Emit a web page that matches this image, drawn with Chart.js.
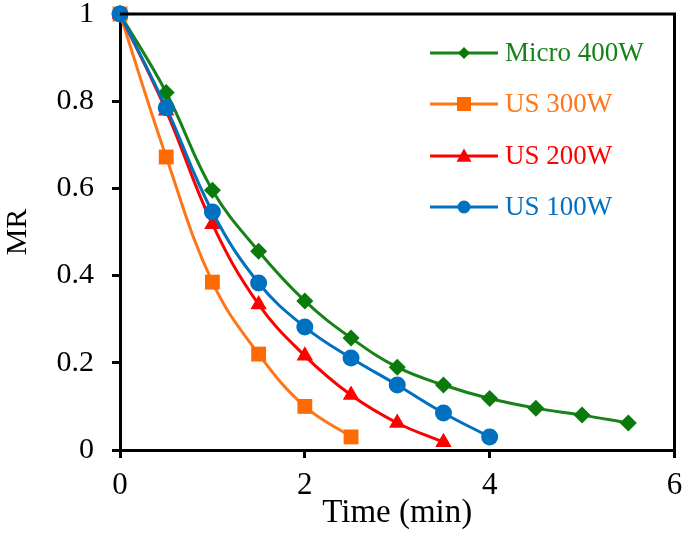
<!DOCTYPE html>
<html>
<head>
<meta charset="utf-8">
<script src="https://cdn.jsdelivr.net/npm/chart.js@4/dist/chart.umd.min.js"></script>
<style>
html,body{margin:0;padding:0;background:#fff;}
#wrap{width:685px;height:545px;}
</style>
</head>
<body>
<div id="wrap"><canvas id="c" width="685" height="545"></canvas></div>
<script>
const seriesNames = ["Micro 400W", "US 300W", "US 200W", "US 100W"];
const timeMicro400 = [0, 0.5, 1, 1.5, 2, 2.5, 3, 3.5, 4, 4.5, 5, 5.5];
const mrMicro400 = [1, 0.82, 0.596, 0.456, 0.342, 0.257, 0.19, 0.149, 0.118, 0.096, 0.080, 0.062];
const timeUS300 = [0, 0.5, 1, 1.5, 2, 2.5];
const mrUS300 = [1, 0.672, 0.385, 0.22, 0.10, 0.03];
const timeUS200 = [0, 0.5, 1, 1.5, 2, 2.5, 3, 3.5];
const mrUS200 = [1, 0.778, 0.518, 0.334, 0.216, 0.126, 0.062, 0.018];
const timeUS100 = [0, 0.5, 1, 1.5, 2, 2.5, 3, 3.5, 4];
const mrUS100 = [1, 0.785, 0.546, 0.383, 0.282, 0.211, 0.149, 0.085, 0.03];
const xTicks = [0, 2, 4, 6];
const yTicks = [0, 0.2, 0.4, 0.6, 0.8, 1];

const colors = ["#178217", "#FF7518", "#FF0000", "#0070C0"];
const markerColors = ["#0A7A0A", "#FF6A00", "#FF0000", "#0070C0"];
const styles = ["rectRot", "rect", "triangle", "circle"];
const radii = [8.5, 10.5, 9.5, 8.5];

function pts(xs, ys){ return xs.map((x,i)=>({x:x, y:ys[i]})); }
const dataSets = [pts(timeMicro400, mrMicro400), pts(timeUS300, mrUS300), pts(timeUS200, mrUS200), pts(timeUS100, mrUS100)];

const FONT = "'Liberation Serif', 'Times New Roman', serif";

const frame = {
  id: 'frame',
  afterDatasetsDraw(chart){
    const {ctx, chartArea:a} = chart;
    ctx.save();
    ctx.strokeStyle = '#000';
    ctx.lineWidth = 3;
    ctx.beginPath();
    ctx.moveTo(a.left, a.top); ctx.lineTo(a.right, a.top); ctx.lineTo(a.right, a.bottom);
    ctx.stroke();
    ctx.restore();
  },
  afterDraw(chart){
    const {ctx} = chart;
    ctx.save();
    const rows = [53, 104, 156, 207];
    for (let i=0;i<4;i++){
      const y = rows[i];
      ctx.strokeStyle = colors[i];
      ctx.lineWidth = 3;
      ctx.beginPath(); ctx.moveTo(430, y); ctx.lineTo(498, y); ctx.stroke();
      ctx.fillStyle = markerColors[i];
      const cx = 464;
      ctx.beginPath();
      if (i===0){ const r=6; ctx.moveTo(cx, y-r); ctx.lineTo(cx+r, y); ctx.lineTo(cx, y+r); ctx.lineTo(cx-r, y); ctx.closePath(); }
      else if (i===1){ const s=7; ctx.rect(cx-s, y-s, 2*s, 2*s); }
      else if (i===2){ const r=7.5; ctx.moveTo(cx, y-r); ctx.lineTo(cx+r, y+r*0.75); ctx.lineTo(cx-r, y+r*0.75); ctx.closePath(); }
      else { ctx.arc(cx, y, 6.5, 0, Math.PI*2); }
      ctx.fill();
      ctx.fillStyle = colors[i];
      ctx.font = "27px " + FONT;
      ctx.textAlign = 'left'; ctx.textBaseline = 'middle';
      ctx.fillText(seriesNames[i], 505, y+1);
    }
    ctx.restore();
  }
};

function zeroPad(s){ s.paddingTop = 0; s.paddingBottom = 0; s.paddingLeft = 0; s.paddingRight = 0; }

new Chart(document.getElementById('c'), {
  type: 'scatter',
  data: {
    datasets: dataSets.map((d,i)=>({
      label: seriesNames[i],
      data: d,
      showLine: true,
      borderColor: colors[i],
      backgroundColor: markerColors[i],
      pointBackgroundColor: markerColors[i],
      pointBorderColor: markerColors[i],
      pointBorderWidth: 0,
      borderWidth: 3,
      pointStyle: styles[i],
      pointRadius: radii[i],
      pointHoverRadius: radii[i],
      tension: 0.4,
      clip: false,
      order: 4 - i
    }))
  },
  options: {
    responsive: false,
    animation: false,
    devicePixelRatio: 1,
    layout: { padding: { left: 0, right: 8, top: 14, bottom: 0 } },
    plugins: { legend: { display: false }, tooltip: { enabled: false } },
    scales: {
      x: {
        type: 'linear', min: 0, max: 6,
        afterBuildTicks(s){ s.ticks = xTicks.map(v=>({value:v})); },
        afterFit(s){ s.height = 95; zeroPad(s); },
        border: { display: true, color: '#000', width: 3 },
        grid: { display: true, drawOnChartArea: false, drawTicks: true, tickLength: 8, color: '#000', lineWidth: 3 },
        ticks: { color: '#000', font: { family: FONT, size: 31 }, padding: 9, maxRotation: 0 },
        title: { display: true, text: 'Time (min)', color: '#000', font: { family: FONT, size: 33 }, padding: { top: 0, bottom: 12 } }
      },
      y: {
        type: 'linear', min: 0, max: 1,
        afterBuildTicks(s){ s.ticks = yTicks.map(v=>({value:v})); },
        afterFit(s){ s.width = 120; zeroPad(s); },
        border: { display: true, color: '#000', width: 3 },
        grid: { display: true, drawOnChartArea: false, drawTicks: true, tickLength: 8, color: '#000', lineWidth: 3 },
        ticks: { color: '#000', font: { family: FONT, size: 30 }, padding: 18, callback: v => String(Math.round(v*10)/10) },
        title: { display: true, text: 'MR', color: '#000', font: { family: FONT, size: 30 }, padding: { top: 0, bottom: 0 } }
      }
    }
  },
  plugins: [frame]
});
</script>
</body>
</html>
